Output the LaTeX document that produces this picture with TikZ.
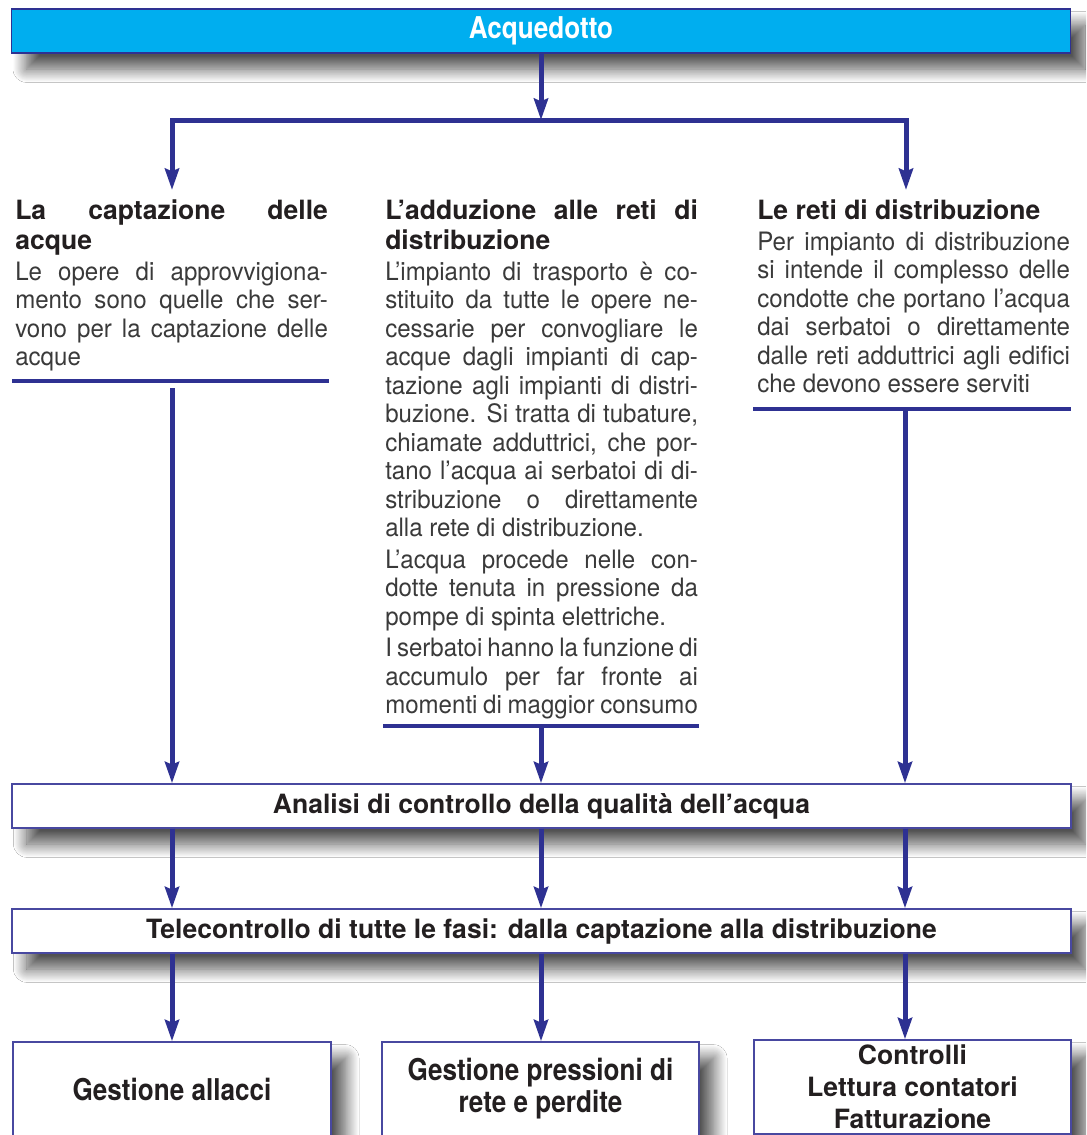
\documentclass[tikz,border=0pt]{standalone}
\usepackage{fontspec}
\setmainfont{TeX Gyre Heros}
\newfontfamily\narrowheros[FakeStretch=0.87]{TeX Gyre Heros}
\newfontfamily\bodyheros[FakeStretch=0.95]{TeX Gyre Heros}
\usetikzlibrary{arrows.meta,shadows.blur}

\definecolor{navy}{HTML}{2E3192}
\definecolor{barcyan}{HTML}{00AEEF}
\definecolor{ink}{HTML}{231F20}
\definecolor{bodyink}{HTML}{3A3A3A}
\definecolor{frame}{HTML}{4848A0}

% one justified line / one line at natural width
\newcommand\jline[1]{\hbox to\hsize{#1}}
\newcommand\eline[1]{\hbox{#1}}
\newcommand\paragap{\vskip2.2pt}
% column heading and column body, first baseline on the node's base
\newcommand\colhead[1]{\vtop{\hsize=234.5pt\fontsize{19.9pt}{22.5pt}\selectfont\bfseries
  \baselineskip=22.5pt\lineskiplimit=-100pt\relax #1}}
\newcommand\colbody[1]{\vtop{\hsize=234.5pt\fontsize{19pt}{21.4pt}\bodyheros
  \baselineskip=21.4pt\lineskiplimit=-100pt\relax #1}}

\begin{document}
\begin{tikzpicture}[x=0.75pt,y=-0.75pt,
  wire/.style={draw=navy,line width=3.75pt},
  arr/.style={wire,-{Stealth[length=16pt,width=10.5pt,inset=2pt]}},
  twoarr/.style={wire,{Stealth[length=16pt,width=10.5pt,inset=2pt]}-{Stealth[length=16pt,width=10.5pt,inset=2pt]}},
  rulebar/.style={draw=navy,line width=3.4pt},
  shadowed/.style={blur shadow={shadow xshift=11pt,shadow yshift=-12pt,
      shadow blur radius=10pt,shadow blur steps=20,shadow opacity=68}},
  box/.style={draw=frame,line width=1.1pt,fill=white,shadowed,inner sep=0pt,
      align=center,text=ink,font=\fontsize{19.9pt}{24pt}\selectfont\bfseries},
  narrowtext/.style={font=\fontsize{22.5pt}{24pt}\narrowheros\bfseries},
  bar/.style={box,draw=navy,fill=barcyan,text=white,narrowtext},
  head/.style={anchor=base west,inner sep=0pt,text=ink},
  body/.style={anchor=base west,inner sep=0pt,text=bodyink}]

\useasboundingbox (0,0) rectangle (1086,1135);
\fill[white] (0,0) rectangle (1086,1135);
\clip (0,0) rectangle (1086,1135);

% column axes
\coordinate (c1) at (172,0);
\coordinate (c2) at (541,0);
\coordinate (c3) at (905,0);

% title bar
\node[bar,minimum width=794pt,minimum height=33pt] (top) at (541,31) {Acquedotto};

% three columns of text
\node[head] (hd1) at (15,219) {\colhead{\jline{La captazione delle}\eline{acque}}};
\node[body] (bd1) at (15,280) {\colbody{%
  \jline{Le opere di approvvigiona-}
  \jline{mento sono quelle che ser-}
  \jline{vono per la captazione delle}
  \eline{acque}}};

\node[head] (hd2) at (385,219) {\colhead{\jline{L’adduzione alle reti di}\eline{distribuzione}}};
\node[body] (bd2) at (385,280) {\colbody{%
  \jline{L’impianto di trasporto è co-}
  \jline{stituito da tutte le opere ne-}
  \jline{cessarie per convogliare le}
  \jline{acque dagli impianti di cap-}
  \jline{tazione agli impianti di distri-}
  \jline{buzione. Si tratta di tubature,}
  \jline{chiamate adduttrici, che por-}
  \jline{tano l’acqua ai serbatoi di di-}
  \jline{stribuzione o direttamente}
  \eline{alla rete di distribuzione.}
  \paragap
  \jline{L’acqua procede nelle con-}
  \jline{dotte tenuta in pressione da}
  \eline{pompe di spinta elettriche.}
  \paragap
  \jline{I serbatoi hanno la funzione di}
  \jline{accumulo per far fronte ai}
  \jline{momenti di maggior consumo}}};

\node[head] (hd3) at (757,219) {\colhead{\eline{Le reti di distribuzione}}};
\node[body] (bd3) at (757,250) {\colbody{%
  \jline{Per impianto di distribuzione}
  \jline{si intende il complesso delle}
  \jline{condotte che portano l’acqua}
  \jline{dai serbatoi o direttamente}
  \jline{dalle reti adduttrici agli edifici}
  \eline{che devono essere serviti}}};

% rules closing each column
\coordinate (u1a) at (12,381);  \coordinate (u1b) at (329,381);
\coordinate (u2a) at (383,726); \coordinate (u2b) at (699,726);
\coordinate (u3a) at (753,409); \coordinate (u3b) at (1071,409);
\draw[rulebar] (u1a) -- (u1b);
\draw[rulebar] (u2a) -- (u2b);
\draw[rulebar] (u3a) -- (u3b);

% full-width stages
\node[box,minimum width=794pt,minimum height=33pt] (an) at (541.5,806)
  {Analisi di controllo della qualità dell’acqua};
\node[box,minimum width=794pt,minimum height=33pt] (tc) at (541.5,931)
  {Telecontrollo di tutte le fasi: dalla captazione alla distribuzione};

% final tasks
\node[box,narrowtext,minimum width=238.5pt,minimum height=70.5pt] (g1) at (172,1089)
  {Gestione allacci};
\node[box,narrowtext,minimum width=237.75pt,minimum height=70.5pt] (g2) at (540.5,1089)
  {Gestione pressioni di\\rete e perdite};
\node[box,minimum width=238pt,minimum height=70.5pt] (g3) at (912.5,1087)
  {Controlli\\Lettura contatori\\Fatturazione};

% split from the title bar
\coordinate (split) at (541,120);
\coordinate (t1) at (172,190);
\coordinate (t3) at (906,190);
\draw[arr] (top.south -| c2) -- (split);
\draw[twoarr] (t1) |- (split) -| (t3);

% columns into the quality analysis
\coordinate (d1) at (172,388);
\coordinate (d2) at (541,726);
\coordinate (d3) at (905,409);
\draw[arr] (d1) -- (an.north -| c1);
\draw[arr] (d2) -- (an.north -| c2);
\draw[arr] (d3) -- (an.north -| c3);

% analysis to remote control
\draw[arr] (an.south -| c1) -- (tc.north -| c1);
\draw[arr] (an.south -| c2) -- (tc.north -| c2);
\draw[arr] (an.south -| c3) -- (tc.north -| c3);

% remote control to the tasks
\draw[arr] (tc.south -| c1) -- (g1.north -| c1);
\draw[arr] (tc.south -| c2) -- (g2.north -| c2);
\draw[arr] (tc.south -| c3) -- (g3.north -| c3);
\end{tikzpicture}
\end{document}
